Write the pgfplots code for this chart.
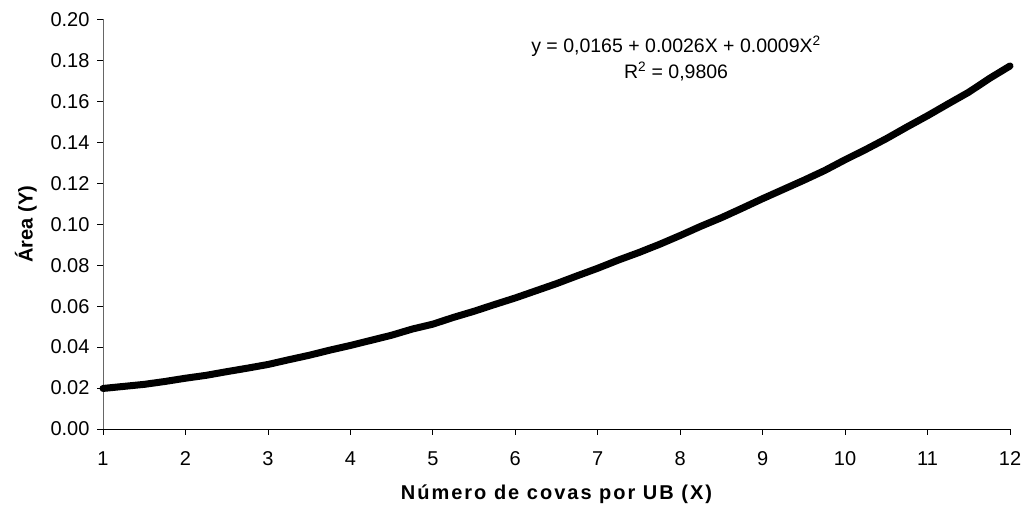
\documentclass[border=0pt]{standalone}
\usepackage{fontspec}
\setmainfont{Liberation Sans}
\newfontfamily\widefont[LetterSpace=10]{Liberation Sans}
\usepackage{pgfplots}
\pgfplotsset{compat=1.18}
\begin{document}
\begin{tikzpicture}[x=1pt,y=1pt]
\begin{axis}[
  at={(0,0)}, anchor=origin,
  scale only axis,
  width=907pt, height=409.5pt,
  xmin=1, xmax=12, ymin=0, ymax=0.20,
  axis x line=bottom, axis y line=left,
  axis line style={-},
  y axis line style={gray!80!black},
  x axis line style={black},
  xtick={1,2,...,12},
  ytick={0,0.02,0.04,0.06,0.08,0.10,0.12,0.14,0.16,0.18,0.20},
  yticklabel style={/pgf/number format/fixed, /pgf/number format/fixed zerofill, /pgf/number format/precision=2, xshift=-4pt},
  /pgf/number format/assume math mode=true,
  tick align=outside,
  major tick length=6pt,
  tick style={black, line width=0.8pt},
  tick label style={font=\fontsize{20}{24}\selectfont},
  xticklabel style={yshift=-13pt},
  xlabel={\widefont\bfseries\fontsize{20}{24}\selectfont Número de covas por UB (X)},
  ylabel={\bfseries\fontsize{20}{24}\selectfont Área (Y)},
  xlabel style={yshift=-12pt},
  ylabel style={yshift=7pt},
  clip=false,
]
\addplot[black, line width=7pt, line join=round, line cap=round] coordinates {
(1.00,0.0198) (1.25,0.0208) (1.50,0.0218) (1.75,0.0232) (2.00,0.0248)
(2.25,0.0262) (2.50,0.0280) (2.75,0.0297) (3.00,0.0315) (3.25,0.0338)
(3.50,0.0360) (3.75,0.0385) (4.00,0.0408) (4.25,0.0433) (4.50,0.0458)
(4.75,0.0488) (5.00,0.0512) (5.25,0.0545) (5.50,0.0575) (5.75,0.0608)
(6.00,0.0640) (6.25,0.0675) (6.50,0.0710) (6.75,0.0748) (7.00,0.0785)
(7.25,0.0825) (7.50,0.0862) (7.75,0.0902) (8.00,0.0945) (8.25,0.0990)
(8.50,0.1032) (8.75,0.1078) (9.00,0.1125) (9.25,0.1170) (9.50,0.1215)
(9.75,0.1262) (10.00,0.1315) (10.25,0.1365) (10.50,0.1418) (10.75,0.1475)
(11.00,0.1530) (11.25,0.1588) (11.50,0.1645) (11.75,0.1712) (12.00,0.1773)
};
\addplot[black, line width=1.3pt, smooth] coordinates {
(1.0,0.0200) (1.5,0.0224) (2.0,0.0253) (2.5,0.0286) (3.0,0.0324)
(3.5,0.0366) (4.0,0.0413) (4.5,0.0464) (5.0,0.0520) (5.5,0.0580)
(6.0,0.0645) (6.5,0.0714) (7.0,0.0788) (7.5,0.0866) (8.0,0.0949)
(8.5,0.1036) (9.0,0.1128) (9.5,0.1224) (10.0,0.1325) (10.5,0.1430)
(11.0,0.1540) (11.5,0.1654) (12.0,0.1773)
};
\node[font=\fontsize{19.5}{23}\selectfont, align=center] at (axis cs:7.95,0.181)
  {y = 0,0165 + 0.0026X + 0.0009X\textsuperscript{2}\\[3pt] R\textsuperscript{2} = 0,9806};
\end{axis}
\pgfresetboundingbox
\path (-103pt,-81pt) rectangle (922pt,429pt);
\end{tikzpicture}
\end{document}
